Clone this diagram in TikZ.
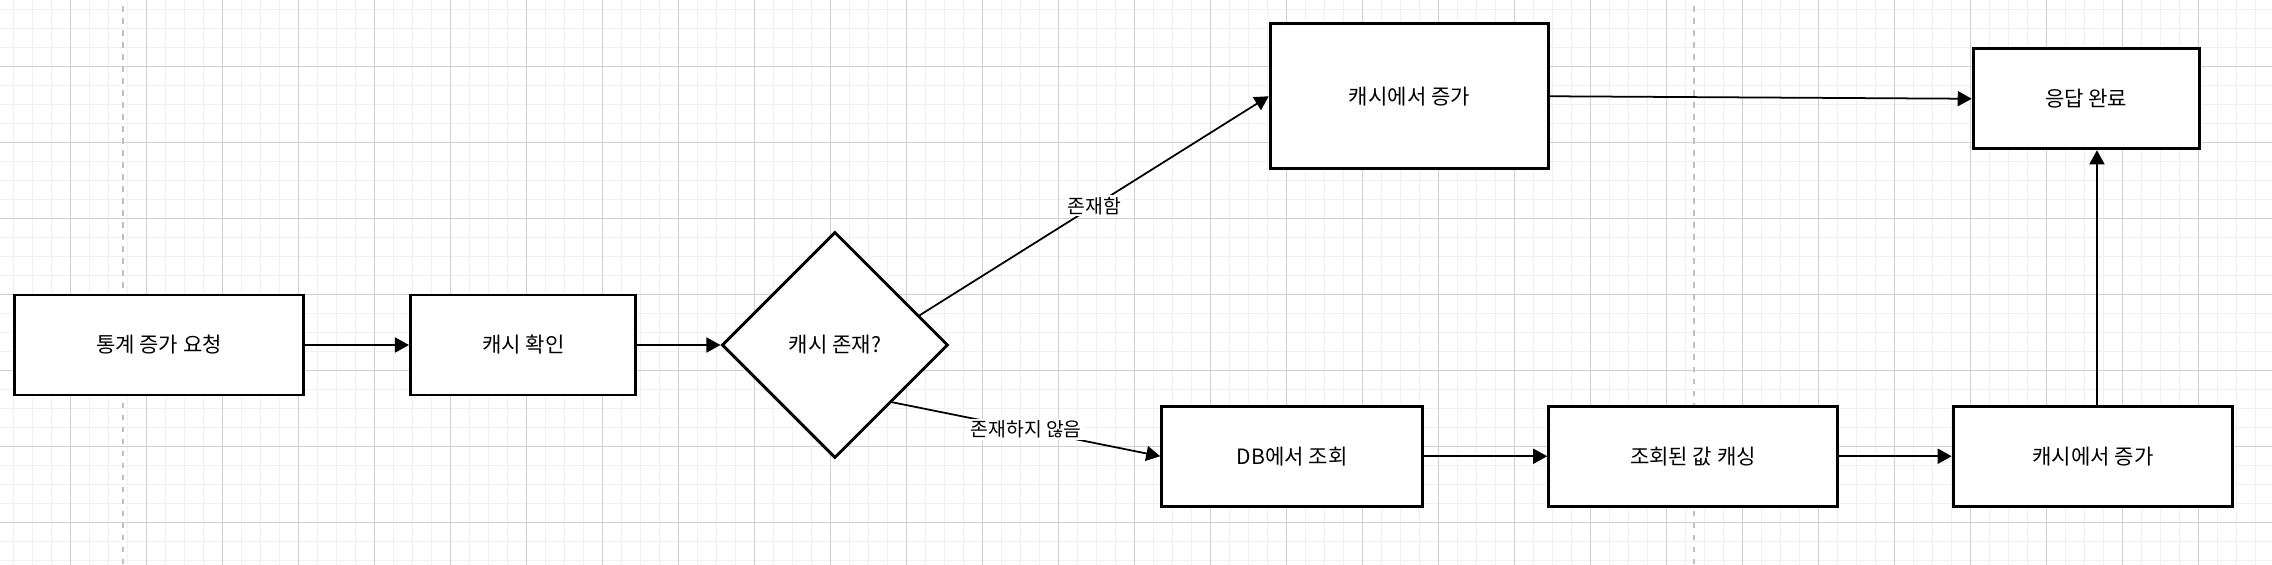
\documentclass[tikz,border=0pt]{standalone}
\usepackage{fontspec}
\setmainfont{Noto Sans CJK KR}
\usepackage{xcolor}
\usepackage{tikz}
\usetikzlibrary{arrows.meta, positioning, shapes.geometric, calc}
\definecolor{gridminor}{RGB}{241,241,241}
\definecolor{gridmajor}{RGB}{208,208,208}
\definecolor{pagebreak}{RGB}{192,192,192}

\begin{document}
\begin{tikzpicture}[
    box/.style={rectangle, draw, fill=white, line width=1.7pt, align=center, minimum height=2.0cm, font=\fontsize{12}{14}\selectfont},
    decision/.style={diamond, draw, fill=white, line width=1.7pt, aspect=1, minimum width=4.52cm, minimum height=4.52cm, font=\fontsize{12}{14}\selectfont},
    arrow/.style={-{Triangle[length=0.28cm, width=0.3cm]}, line width=1pt},
    lbl/.style={midway, fill=white, inner sep=1pt, font=\fontsize{11}{13}\selectfont}
]
\useasboundingbox (-3.18,-4.38) rectangle (42.26,6.90);
\begin{scope}
\clip (-3.18,-4.38) rectangle (42.26,6.90);
\fill[white] (-3.18,-4.38) rectangle (42.26,6.90);
\draw[gridminor, line width=0.55pt, step=0.38cm, shift={(0.126,0.254)}] (-4.56,-4.94) grid (42.56,7.22);
\draw[gridmajor, line width=0.6pt, step=1.52cm, shift={(1.266,1.014)}] (-6.08,-6.08) grid (42.56,7.6);
\draw[pagebreak, line width=0.75pt, dash pattern=on 0.11cm off 0.13cm] (-0.72,-4.38) -- (-0.72,6.90);
\draw[pagebreak, line width=0.75pt, dash pattern=on 0.11cm off 0.13cm] (30.70,-4.38) -- (30.70,6.90);
\end{scope}

\node[box, minimum width=5.78cm] (req) {통계 증가 요청};
\node[box, minimum width=4.51cm, right=2.08cm of req] (check) {캐시 확인};
\node[decision, right=1.66cm of check] (exists) {캐시 존재?};
\node[box, minimum width=5.57cm, minimum height=2.90cm, above right=2.35cm and 7.53cm of exists] (incrhit) {캐시에서 증가};
\node[box, minimum width=4.52cm, right=8.43cm of incrhit, yshift=-0.05cm] (done) {응답 완료};
\node[box, minimum width=5.22cm, below right=0.05cm and 5.36cm of exists] (dbread) {DB에서 조회};
\node[box, minimum width=5.77cm, right=2.46cm of dbread] (store) {조회된 값 캐싱};
\node[box, minimum width=5.59cm, right=2.26cm of store] (incrmiss) {캐시에서 증가};
\coordinate (hitout) at ($(exists.north)!0.74!(exists.east)$);

\draw[arrow] (req) -- (check);
\draw[arrow] (check) -- (exists);
\draw[arrow] (hitout) -- node[lbl] {존재함} (incrhit.west);
\draw[arrow] (exists.south east) -- node[lbl] {존재하지 않음} (dbread.west);
\draw[arrow] (dbread) -- (store);
\draw[arrow] (store) -- (incrmiss);
\draw[arrow] (incrhit.east) -- (done.west);
\draw[arrow] ([xshift=0.08cm]incrmiss.north) -- ([xshift=0.08cm]incrmiss.north |- done.south);
\end{tikzpicture}
\end{document}
